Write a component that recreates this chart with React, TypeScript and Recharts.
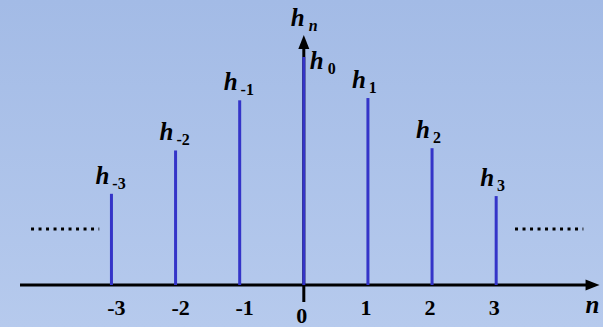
import React from 'react';
import { ComposedChart, XAxis, YAxis, ReferenceLine } from 'recharts';

// sample index n and the stem heights h_n (h_0 = 1)
const indices = [-3, -2, -1, 0, 1, 2, 3];
const hValues = [0.4, 0.59, 0.81, 1.0, 0.82, 0.6, 0.39];
const tickLabels = ['-3', '-2', '-1', '0', '1', '2', '3'];

const data = indices.map((n, i) => ({ n, h: hValues[i], sub: tickLabels[i] }));

const FONT = "'Liberation Serif', 'Times New Roman', 'DejaVu Serif', serif";
const STEM = '#3434c8';
const txt = (extra: any = {}) => ({ fontFamily: FONT, fontWeight: 'bold' as const, ...extra });

const XArrow = (props: any) => {
  const { x1, y1, x2, y2 } = props;
  return (
    <g>
      <line x1={x1} y1={y1} x2={x2 - 10} y2={y2} stroke="#000" strokeWidth={3} />
      <polygon points={`${x2},${y2} ${x2 - 14},${y2 - 5.5} ${x2 - 14},${y2 + 5.5}`} fill="#000" />
      <text x={x2 - 14} y={y2 + 28} style={txt({ fontStyle: 'italic', fontSize: 25 })} fill="#000">
        n
      </text>
    </g>
  );
};

const YArrow = (props: any) => {
  const { x1, y1, x2, y2 } = props;
  const top = Math.min(y1, y2);
  const bottom = Math.max(y1, y2);
  return (
    <g>
      <line x1={x1} y1={bottom} x2={x2} y2={top + 10} stroke="#000" strokeWidth={3} />
      <polygon points={`${x2},${top} ${x2 - 5.5},${top + 14} ${x2 + 5.5},${top + 14}`} fill="#000" />
      <text x={x2 - 13} y={top - 9} style={txt({ fontSize: 25 })} fill="#000">
        <tspan style={{ fontStyle: 'italic' }}>h</tspan>
        <tspan dx={4} dy={5} style={{ fontStyle: 'italic', fontSize: 16 }}>n</tspan>
      </text>
    </g>
  );
};

const Stem = (props: any) => {
  const { x1, y1, x2, y2, d } = props;
  const top = Math.min(y1, y2);
  const bottom = Math.max(y1, y2);
  const cx = x1;
  const isZero = d.n === 0;
  const hx = isZero ? cx + 6 : cx - 16;
  const hy = isZero ? top + 12 : top - 10;
  return (
    <g>
      <line x1={x1} y1={bottom} x2={x2} y2={top} stroke={STEM} strokeWidth={3} />
      <text x={hx} y={hy} style={txt({ fontSize: 25 })} fill="#000">
        <tspan style={{ fontStyle: 'italic' }}>h</tspan>
        <tspan dx={isZero ? 4 : 3} dy={5} style={{ fontSize: 16 }}>{d.sub}</tspan>
      </text>
    </g>
  );
};

const Tick = (props: any) => {
  const { x, y, payload } = props;
  const v = payload.value;
  const label = tickLabels[indices.indexOf(v)] ?? String(v);
  const isZero = v === 0;
  return (
    <text
      x={x + (v < 0 ? 5 : isZero ? -2 : -2)}
      y={y + (isZero ? 38 : 30)}
      textAnchor="middle"
      style={txt({ fontSize: 22 })}
      fill="#000"
    >
      {label}
    </text>
  );
};

export default function App() {
  return (
    <div
      style={{
        position: 'absolute',
        left: 0,
        top: 0,
        width: 603,
        height: 327,
        background: 'linear-gradient(#a3bbe6, #b6caed)',
      }}
    >
      <ComposedChart width={603} height={327} data={data} margin={{ top: 0, right: 0, bottom: 0, left: 0 }}>
        <XAxis
          dataKey="n"
          type="number"
          domain={[-4.738, 4.666]}
          allowDataOverflow
          ticks={indices}
          interval={0}
          height={42}
          axisLine={false}
          tickLine={false}
          tickSize={0}
          tickMargin={0}
          tick={<Tick />}
        />
        <YAxis hide domain={[0, 1.25]} allowDataOverflow />
        <ReferenceLine
          segment={[{ x: -4.426, y: 0 }, { x: 4.612, y: 0 }]}
          ifOverflow="visible"
          shape={(p: any) => <XArrow {...p} />}
        />
        <ReferenceLine
          segment={[{ x: 0, y: -0.075 }, { x: 0, y: 1.096 }]}
          ifOverflow="visible"
          shape={(p: any) => <YArrow {...p} />}
        />
        <ReferenceLine
          segment={[{ x: -4.254, y: 0.2456 }, { x: -3.19, y: 0.2456 }]}
          stroke="#000"
          strokeWidth={3}
          strokeDasharray="3 4.5"
          ifOverflow="visible"
        />
        <ReferenceLine
          segment={[{ x: 3.294, y: 0.2456 }, { x: 4.36, y: 0.2456 }]}
          stroke="#000"
          strokeWidth={3}
          strokeDasharray="3 4.5"
          ifOverflow="visible"
        />
        {data.map((d) => (
          <ReferenceLine
            key={d.n}
            segment={[{ x: d.n, y: 0 }, { x: d.n, y: d.h }]}
            ifOverflow="visible"
            shape={(p: any) => <Stem {...p} d={d} />}
          />
        ))}
      </ComposedChart>
    </div>
  );
}
